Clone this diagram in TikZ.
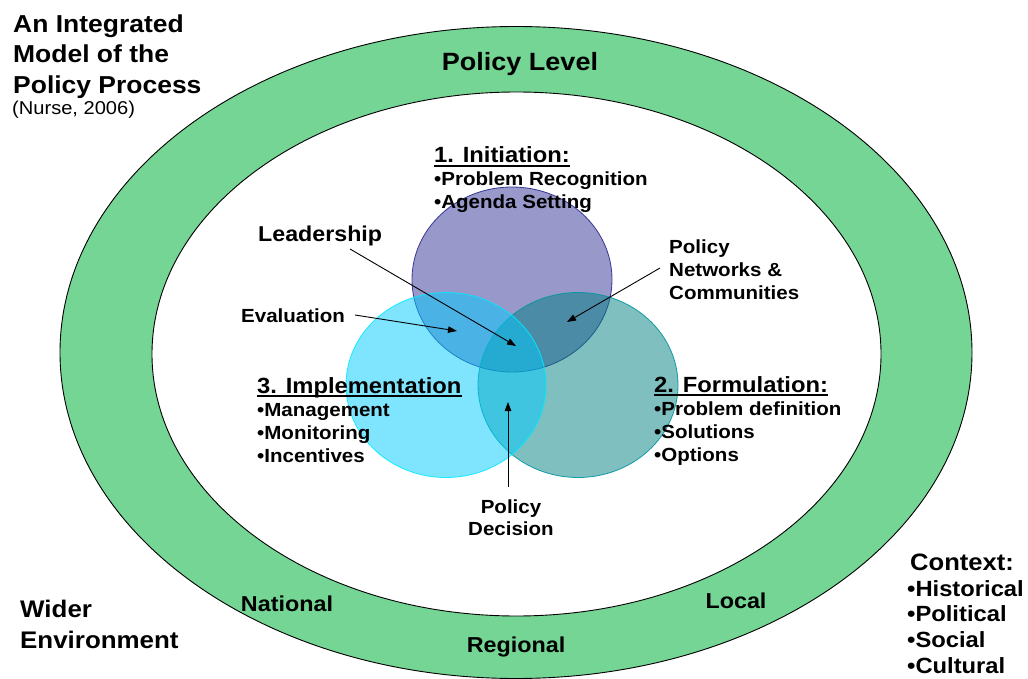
\documentclass[tikz,border=0pt]{standalone}
\usepackage{fontspec}
\setmainfont{Liberation Sans}[FakeStretch=1.08]
\usetikzlibrary{arrows.meta}
\definecolor{ring}{RGB}{116,213,148}
\definecolor{cpurple}{RGB}{51,51,153}
\definecolor{cteal}{RGB}{0,128,128}
\definecolor{ccyan}{RGB}{0,204,255}
\definecolor{bpurple}{RGB}{40,40,140}
\definecolor{bteal}{RGB}{0,150,160}
\definecolor{bcyan}{RGB}{0,235,255}
\newcommand\fsz[2]{\fontsize{#1}{#2}\selectfont}
\begin{document}
\begin{tikzpicture}[x=1pt,y=-1pt,
  txt/.style={inner sep=0pt, font=\fsz{19}{23}\bfseries},
  head/.style={inner sep=0pt, font=\fsz{22}{26}\bfseries},
  ringlbl/.style={inner sep=0pt, font=\fsz{21.6}{26}\bfseries},
  big/.style={inner sep=0pt, font=\fsz{24.5}{30.5}\bfseries},
  venn/.style={fill opacity=0.5, draw opacity=0.9, line width=0.8pt},
  arr/.style={line width=0.9pt, -{Triangle[length=9pt,width=6.5pt]}},
  uline/.style={line width=1.3pt}]
\useasboundingbox (0,0) rectangle (1028,679);
% rings
\draw[fill=ring, line width=0.9pt] (516,352.5) ellipse [x radius=456pt, y radius=326pt];
\draw[fill=white, line width=0.9pt] (516.5,354) ellipse [x radius=364.5pt, y radius=262pt];
% venn circles
\path[venn, draw=bpurple, fill=cpurple] (512,279.5) ellipse [x radius=100pt, y radius=92.5pt];
\path[venn, draw=bteal, fill=cteal] (578,385) ellipse [x radius=100pt, y radius=92.5pt];
\path[venn, draw=bcyan, fill=ccyan] (446,385) ellipse [x radius=100pt, y radius=92.5pt];
% title
\node[big, anchor=north west, align=left] (title) at (13,14.5) {An Integrated\\Model of the\\Policy Process};
\node[inner sep=0pt, font=\fsz{18.6}{22}, anchor=base west] (cite) at (12,115) {(Nurse, 2006)};
\node[inner sep=0pt, font=\fsz{25}{30}\bfseries, anchor=base] (plevel) at (520,71) {Policy Level};
% initiation
\node[head, anchor=base west] (init) at (434,163) {1. Initiation:};
\draw[uline] ([yshift=-3pt]init.base west) -- ([yshift=-3pt]init.base east);
\node[txt, anchor=north west, align=left] (initb) at (434,171.3) {•Problem Recognition\\•Agenda Setting};
% formulation
\node[head, anchor=base west] (form) at (654,392) {2. Formulation:};
\draw[uline] ([yshift=-3pt]form.base west) -- ([yshift=-3pt]form.base east);
\node[txt, anchor=north west, align=left] (formb) at (654,401.3) {•Problem definition\\•Solutions\\•Options};
% implementation
\node[head, anchor=base west] (impl) at (257,393) {3. Implementation};
\draw[uline] ([yshift=-3pt]impl.base west) -- ([yshift=-3pt]impl.base east);
\node[txt, anchor=north west, align=left] (implb) at (257,403.3) {•Management\\•Monitoring\\•Incentives};
% labels
\node[inner sep=0pt, font=\fsz{21.5}{26}\bfseries, anchor=base west] (lead) at (258,241) {Leadership};
\node[txt, anchor=base west] (eval) at (241,322) {Evaluation};
\node[txt, anchor=north west, align=left] (pnet) at (669,239.3) {Policy\\Networks \&\\Communities};
\node[txt, anchor=north, align=center, font=\fsz{19}{22}\bfseries] (pdec) at (511,499.3) {Policy\\Decision};
% ring labels
\node[ringlbl, anchor=base] (nat) at (287,611) {National};
\node[ringlbl, anchor=base] (loc) at (736,608) {Local};
\node[ringlbl, anchor=base] (reg) at (516,652) {Regional};
% wider environment / context
\node[inner sep=0pt, font=\fsz{24}{31}\bfseries, anchor=north west, align=left] (wider) at (20,599.7) {Wider\\Environment};
\node[inner sep=0pt, font=\fsz{23.7}{28}\bfseries, anchor=base west] (ctx) at (910,570) {Context:};
\node[inner sep=0pt, font=\fsz{22}{25.8}\bfseries, anchor=north west, align=left] (ctxb) at (907,580) {•Historical\\•Political\\•Social\\•Cultural};
% arrows
\coordinate (leadS) at (350,249);
\coordinate (leadE) at (516,346);
\coordinate (evalS) at (355,315);
\coordinate (evalE) at (457,331);
\coordinate (pnetS) at (660,268);
\coordinate (pnetE) at (567,322);
\coordinate (pdecS) at (508,487);
\coordinate (pdecE) at (508,402);
\draw[arr] (leadS) -- (leadE);
\draw[arr] (evalS) -- (evalE);
\draw[arr] (pnetS) -- (pnetE);
\draw[arr] (pdecS) -- (pdecE);
\end{tikzpicture}
\end{document}
